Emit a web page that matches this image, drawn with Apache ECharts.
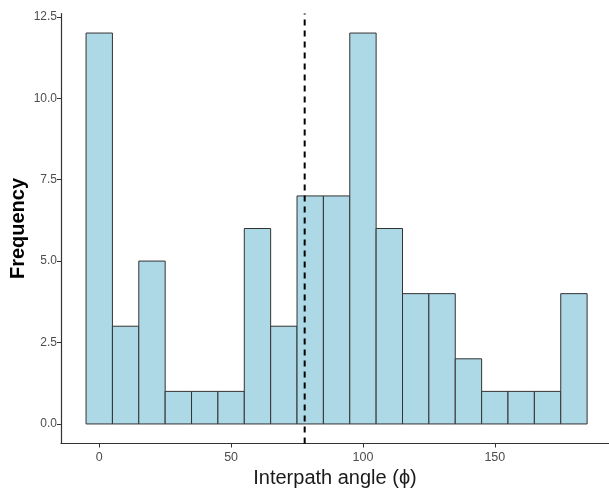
<!DOCTYPE html>
<html>
<head>
<meta charset="utf-8">
<script src="https://cdn.jsdelivr.net/npm/echarts@6/dist/echarts.min.js"></script>
<style>html,body{margin:0;padding:0;background:#fff}#c{width:609px;height:490px}</style>
</head>
<body>
<div id="c"></div>
<script>
const binCenters = [0,10,20,30,40,50,60,70,80,90,100,110,120,130,140,150,160,170,180];
const counts = [12,3,5,1,1,1,6,3,7,7,12,6,4,4,2,1,1,1,4];
const binWidth = 10;
const meanAngle = 77.9;
const xTicks = [0,50,100,150];
const yTicks = [0,2.5,5,7.5,10,12.5];

const chart = echarts.init(document.getElementById('c'), null, {renderer:'canvas'});
const font = 'Liberation Sans, Arial, sans-serif';
chart.setOption({
  animation:false,
  grid:{left:61, right:0, top:13.5, bottom:46.5, containLabel:false, outerBoundsMode:'none'},
  xAxis:{
    type:'value', min:-14.5, max:193.3,
    name:'Interpath angle (\u03D5)', nameLocation:'middle', nameGap:25, nameMoveOverlap:false,
    nameTextStyle:{color:'#1a1a1a', fontSize:20, fontFamily:font},
    axisLine:{show:true, onZero:false, lineStyle:{color:'#333', width:1.2}},
    axisTick:{show:true, length:4, customValues:xTicks, lineStyle:{color:'#333'}},
    axisLabel:{customValues:xTicks, color:'#4d4d4d', fontSize:12.5, fontFamily:font, margin:8},
    splitLine:{show:false}
  },
  yAxis:{
    type:'value', min:-0.6, max:12.6,
    name:'Frequency', nameLocation:'middle', nameGap:33, nameMoveOverlap:false,
    nameTextStyle:{color:'#000', fontSize:20, fontWeight:'bold', fontFamily:font},
    axisLine:{show:true, onZero:false, lineStyle:{color:'#333', width:1.2}},
    axisTick:{show:true, length:4, customValues:yTicks, lineStyle:{color:'#333'}},
    axisLabel:{customValues:yTicks, color:'#4d4d4d', fontSize:12, fontFamily:font, margin:4,
      formatter:v=>v.toFixed(1)},
    splitLine:{show:false}
  },
  series:[{
    type:'custom',
    data: binCenters.map((c,i)=>[c,counts[i]]),
    renderItem:(params, api)=>{
      const c = api.value(0), v = api.value(1);
      const p0 = api.coord([c-binWidth/2, 0]);
      const p1 = api.coord([c+binWidth/2, v]);
      return {type:'rect', shape:{x:p0[0], y:p1[1], width:p1[0]-p0[0], height:p0[1]-p1[1]},
        style:{fill:'#ADD8E6', stroke:'#333', lineWidth:1}};
    }
  },{
    type:'line', data:[[meanAngle,-0.6],[meanAngle,12.6]], symbol:'none',
    lineStyle:{color:'#000', width:2, type:[6,5]}
  }]
});
</script>
</body>
</html>
